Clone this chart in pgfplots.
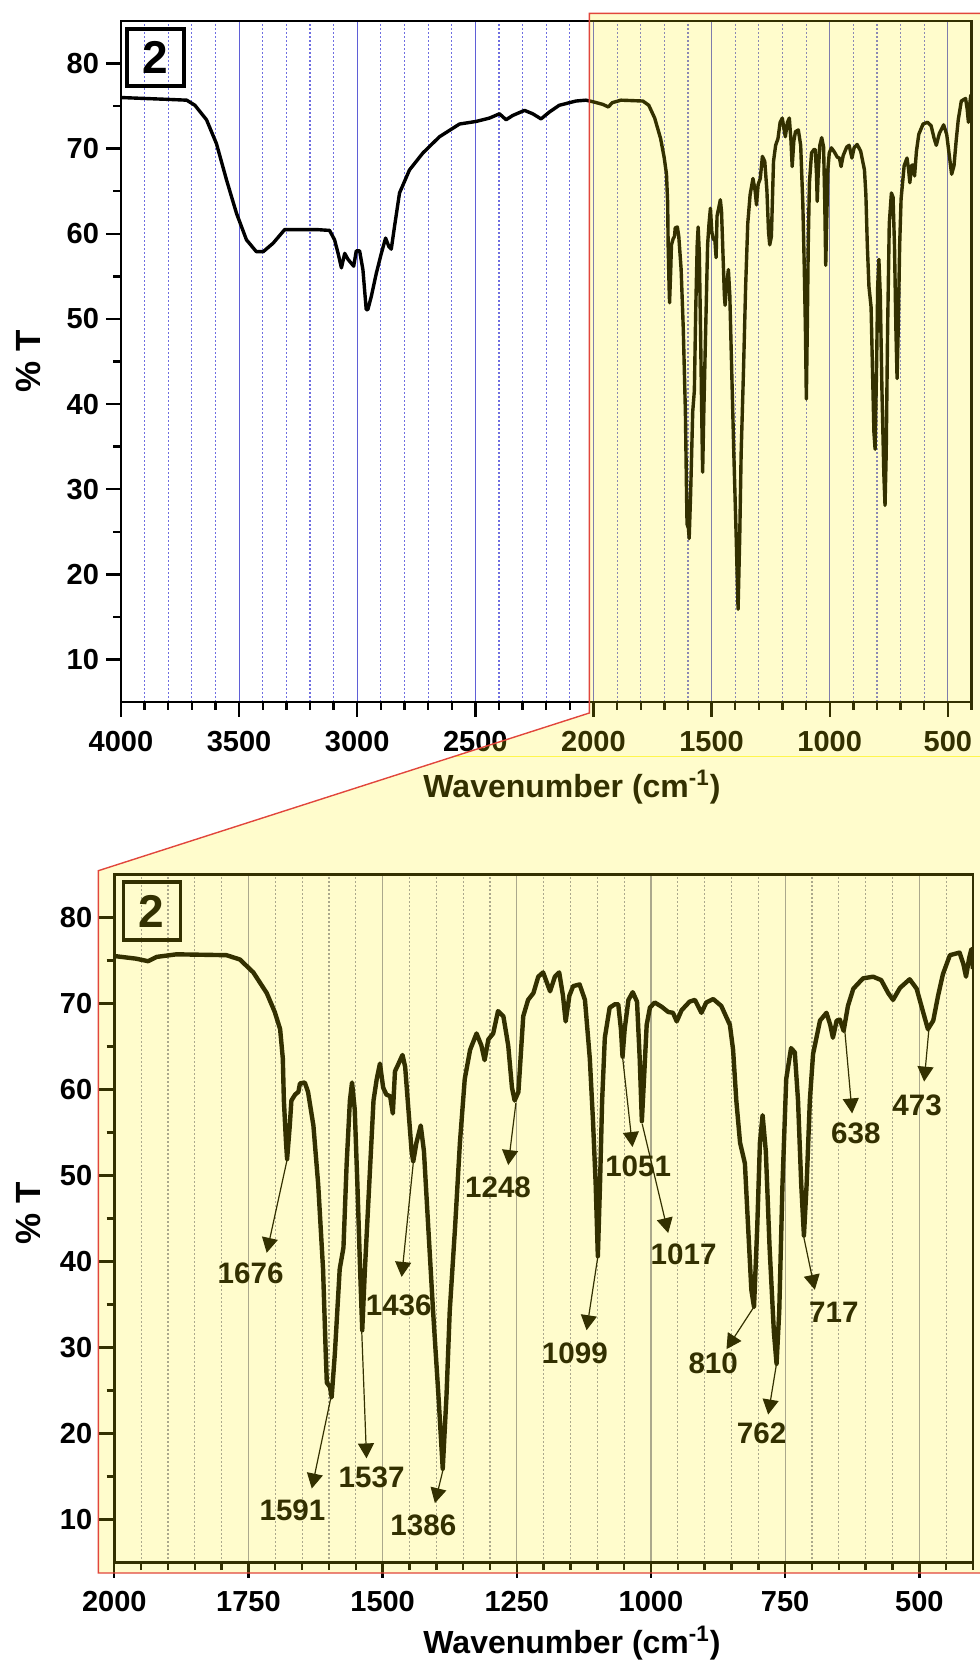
\documentclass[border=0pt]{standalone}
\usepackage{fontspec}
\setmainfont{Liberation Sans}
\usepackage{pgfplots}
\usepackage{pgfplotstable}
\pgfplotsset{compat=1.18}
\usetikzlibrary{arrows.meta}

\pgfplotstableread{
x y
4000 76.0
3990 76.0
3900 75.9
3807 75.8
3722 75.7
3687 75.1
3638 73.4
3596 70.6
3553 66.3
3511 62.4
3469 59.3
3427 57.9
3398 57.9
3356 58.9
3307 60.5
3243 60.5
3173 60.5
3117 60.4
3096 59.3
3081 57.7
3067 56.0
3053 57.7
3039 57.0
3015 56.2
3004 58.0
2990 58.0
2976 55.8
2962 51.1
2955 51.1
2940 52.7
2919 55.4
2898 57.7
2880 59.5
2866 58.5
2856 58.2
2842 60.9
2821 64.8
2779 67.5
2722 69.5
2652 71.4
2567 72.9
2497 73.2
2440 73.6
2398 74.1
2370 73.4
2342 73.9
2292 74.5
2257 74.1
2222 73.5
2187 74.3
2145 75.1
2074 75.6
2032 75.7
2000 75.5
1960 75.2
1937 74.9
1921 75.4
1884 75.7
1791 75.6
1766 75.1
1741 73.6
1716 71.2
1701 69.0
1691 67.0
1686 63.6
1684 58.7
1680 53.8
1678 51.9
1673 55.8
1670 58.7
1663 59.4
1657 59.7
1654 60.7
1645 60.8
1639 59.7
1629 55.8
1620 48.9
1611 39.1
1606 29.3
1604 25.9
1598 25.4
1595 24.2
1589 29.3
1580 39.1
1573 41.6
1567 51.4
1561 58.7
1557 60.8
1552 57.7
1547 48.9
1542 39.1
1538 32.0
1533 39.1
1525 48.9
1517 58.7
1511 61.2
1505 63.0
1499 60.2
1493 59.4
1486 59.2
1481 57.2
1477 62.1
1471 62.9
1463 64.0
1458 62.6
1452 57.7
1446 52.8
1443 51.6
1437 53.8
1429 55.8
1423 52.8
1415 44.0
1406 34.2
1396 24.4
1388 15.9
1381 24.4
1375 34.2
1365 44.0
1356 53.8
1347 61.2
1337 64.6
1325 66.5
1316 65.1
1310 63.4
1303 65.8
1294 66.5
1285 69.1
1275 68.5
1266 65.1
1259 60.2
1254 58.7
1247 59.7
1243 63.6
1238 68.5
1229 70.4
1219 71.2
1210 73.1
1201 73.6
1188 71.4
1179 73.1
1171 73.6
1164 70.9
1159 67.9
1152 70.9
1145 72.0
1133 72.2
1123 70.4
1114 63.6
1108 56.3
1103 48.9
1099 40.6
1095 48.9
1091 58.7
1086 66.0
1077 69.5
1067 69.9
1061 69.9
1056 67.0
1053 63.8
1049 67.0
1042 70.4
1034 71.3
1026 70.2
1021 63.6
1017 56.3
1013 61.2
1008 67.5
1002 69.5
993 70.1
980 69.6
968 69.0
959 68.9
952 67.9
943 69.2
928 70.2
918 70.4
906 68.9
897 70.1
884 70.5
869 69.7
853 67.5
847 64.6
841 58.7
834 53.8
825 51.4
819 44.0
813 36.7
808 34.7
802 44.0
797 53.8
792 57.0
786 52.8
779 41.6
771 31.8
766 28.1
761 34.2
755 48.9
748 61.2
739 64.8
732 64.3
726 58.7
720 48.9
715 43.0
710 48.9
704 58.7
698 64.1
685 68.0
673 68.9
666 67.5
661 66.0
654 68.0
648 68.1
641 66.8
633 69.7
623 71.7
605 72.9
586 73.1
571 72.7
558 71.2
549 70.4
536 71.8
518 72.8
505 71.7
493 69.0
484 67.0
474 68.0
465 70.9
456 73.4
443 75.6
431 75.8
425 75.9
418 74.6
413 73.1
407 75.3
403 76.3
400 74.0
}\spec

\definecolor{gridmaj}{RGB}{95,95,215}
\definecolor{gridmin}{RGB}{110,110,225}
\definecolor{bgridmaj}{RGB}{150,150,175}
\definecolor{bgridmin}{RGB}{150,150,175}
\definecolor{redline}{RGB}{225,70,60}

\tikzset{
  annot/.style={black, line width=0.6pt, -{Triangle[width=8pt,length=7.5pt]}},
  annlab/.style={font=\fontsize{14.8}{15}\selectfont\bfseries, inner sep=0pt},
}

\pgfplotsset{
  irbase/.style={
    scale only axis,
    x dir=reverse,
    ymin=5, ymax=85,
    ytick={10,20,...,80},
    minor ytick={15,25,...,75},
    tick pos=left,
    tick align=outside,
    major tick length=7.5pt,
    minor tick length=3.8pt,
    major tick style={black, line width=1.2pt},
    minor tick style={black, line width=1.2pt},
    axis line style={black, line width=1.4pt},
    tick label style={font=\fontsize{14.5}{15}\selectfont\bfseries},
    xticklabel style={yshift=-3.5pt},
    /pgf/number format/assume math mode=true,
    /pgf/number format/1000 sep={},
    xmajorgrids, xminorgrids,
  },
}

\begin{document}
\begin{tikzpicture}
% ---------- top axis: full range ----------
\begin{axis}[irbase,
  at={(60.5pt,-10.5pt)}, anchor=north west,
  width=425.25pt, height=340.5pt,
  xmin=400, xmax=4000,
  xtick={500,1000,...,4000},
  minor xtick={400,500,...,4000},
  major grid style={gridmaj, line width=0.6pt},
  minor grid style={gridmin, line width=0.6pt, dash pattern=on 0.9pt off 1.1pt},
]
\addplot[black, line width=1.7pt, line join=round, no marks] table {\spec};
\end{axis}

% ---------- bottom axis: zoom 2000-400 ----------
\begin{axis}[irbase,
  at={(57.15pt,-437.15pt)}, anchor=north west,
  width=429.35pt, height=344.1pt,
  xmin=400, xmax=2000,
  xtick={500,750,...,2000},
  minor xtick={400,450,...,2000},
  major grid style={bgridmaj, line width=0.6pt},
  minor grid style={bgridmin, line width=0.6pt, dash pattern=on 0.9pt off 1.1pt},
]
\addplot[black, line width=2.2pt, line join=round, no marks] table {\spec};
\draw[annot] (axis cs:1677.7,51.9) -- (axis cs:1716,41.0);
\node[annlab] at (axis cs:1746,38.6) {1676};
\draw[annot] (axis cs:1596,24.3) -- (axis cs:1632,13.6);
\node[annlab] at (axis cs:1668,11.1) {1591};
\draw[annot] (axis cs:1539,32.0) -- (axis cs:1530,17.1);
\node[annlab] at (axis cs:1520.5,14.9) {1537};
\draw[annot] (axis cs:1443,51.4) -- (axis cs:1464.6,38.2);
\node[annlab] at (axis cs:1470,34.9) {1436};
\draw[annot] (axis cs:1387,15.9) -- (axis cs:1402.6,11.9);
\node[annlab] at (axis cs:1424,9.3) {1386};
\draw[annot] (axis cs:1251.7,58.4) -- (axis cs:1266,51.2);
\node[annlab] at (axis cs:1285,48.6) {1248};
\draw[annot] (axis cs:1098.9,40.6) -- (axis cs:1120,32.0);
\node[annlab] at (axis cs:1141.8,29.3) {1099};
\draw[annot] (axis cs:1053,63.8) -- (axis cs:1034.4,53.3);
\node[annlab] at (axis cs:1023.8,51.1) {1051};
\draw[annot] (axis cs:1016.4,56.0) -- (axis cs:967.9,43.3);
\node[annlab] at (axis cs:939.3,40.8) {1017};
\draw[annot] (axis cs:808.3,34.7) -- (axis cs:859.3,29.8);
\node[annlab] at (axis cs:884,28.1) {810};
\draw[annot] (axis cs:766.1,28.1) -- (axis cs:781.6,22.2);
\node[annlab] at (axis cs:794,20.0) {762};
\draw[annot] (axis cs:715.2,42.8) -- (axis cs:694.7,36.7);
\node[annlab] at (axis cs:659.3,34.1) {717};
\draw[annot] (axis cs:638.8,66.8) -- (axis cs:625.2,57.2);
\node[annlab] at (axis cs:618.3,54.9) {638};
\draw[annot] (axis cs:481.7,67.3) -- (axis cs:491,60.9);
\node[annlab] at (axis cs:504,58.2) {473};
\end{axis}

% ---------- decorations in pixel units ----------
\begin{scope}[x=0.5pt,y=-0.5pt]
\path[use as bounding box] (0,0) rectangle (980,1662);
% boxed "2"
\node[draw=black, line width=1.6pt, minimum width=28.5pt, minimum height=28.5pt,
      inner sep=0pt, font=\fontsize{23}{23}\selectfont\bfseries] at (155.5,57.5) {2};
\node[draw=black, line width=1.6pt, minimum width=28.5pt, minimum height=29pt,
      inner sep=0pt, font=\fontsize{23}{23}\selectfont\bfseries] at (151.7,911) {2};
% axis labels
\node[font=\fontsize{16}{16}\selectfont\bfseries] at (572,787) {Wavenumber (cm\textsuperscript{-1})};
\node[font=\fontsize{16}{16}\selectfont\bfseries] at (572,1643) {Wavenumber (cm\textsuperscript{-1})};
\node[rotate=90, font=\fontsize{17.5}{18}\selectfont\bfseries] at (28.5,361) {\% T};
\node[rotate=90, font=\fontsize{17.5}{18}\selectfont\bfseries] at (28.5,1213) {\% T};
% yellow zoom overlay
\fill[yellow, fill opacity=0.2] (589.3,13.3) -- (980,13.3) -- (980,1573) -- (98.3,1573)
   -- (98.3,870.7) -- (589.3,713) -- cycle;
\draw[yellow!70!white, line width=0.5pt] (455,756) -- (980,756);
\draw[redline, line width=0.7pt] (980,13.3) -- (589.3,13.3) -- (589.3,713) -- (98.3,870.7)
   -- (98.3,1573) -- (980,1573);
\end{scope}
\end{tikzpicture}
\end{document}
